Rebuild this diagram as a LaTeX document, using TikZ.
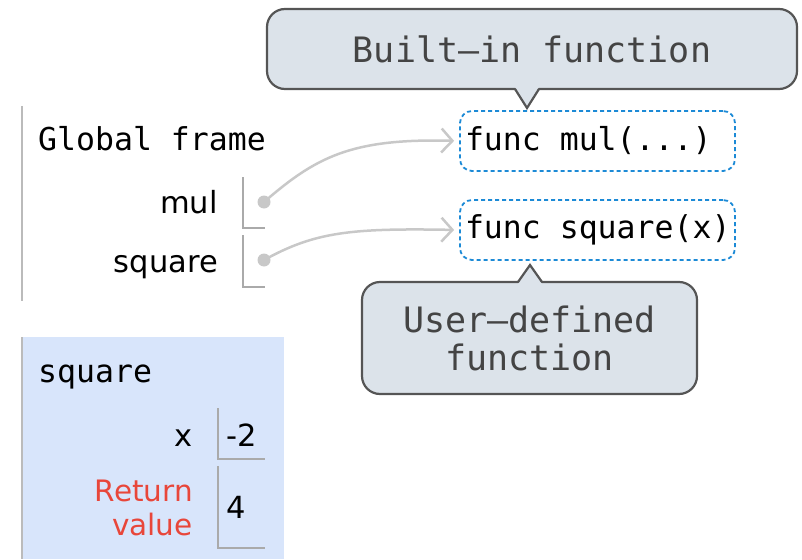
\documentclass[tikz,border=0pt]{standalone}
\usepackage{fontspec}
\setmainfont{DejaVu Sans}
\setsansfont{DejaVu Sans}
\setmonofont{DejaVu Sans Mono}
\usetikzlibrary{arrows.meta}
\definecolor{framebg}{HTML}{D8E5FB}
\definecolor{callfill}{HTML}{DCE3EA}
\definecolor{callline}{HTML}{555555}
\definecolor{calltext}{HTML}{444444}
\definecolor{funcblue}{HTML}{1C8AD6}
\definecolor{retred}{HTML}{E8463A}
\definecolor{ptrgray}{HTML}{C8C8C8}
\definecolor{boxgray}{HTML}{AAAAAA}
\tikzset{
  monotxt/.style={font=\ttfamily\fontsize{31.5}{36}\selectfont, inner sep=0pt},
  sanstxt/.style={font=\sffamily\fontsize{30.5}{36}\selectfont, inner sep=0pt},
  funcbox/.style={draw=funcblue, dashed, dash pattern=on 4pt off 3pt, line width=1.8pt, rounded corners=12pt,
    minimum width=275pt, minimum height=60pt, inner xsep=5pt, inner ysep=0pt,
    font=\ttfamily\fontsize{31.5}{36}\selectfont},
  callbox/.style={draw=callline, fill=callfill, line width=2.2pt, rounded corners=18pt,
    text=calltext, font=\ttfamily\fontsize{35}{40}\selectfont, align=center, inner sep=0pt},
  bindline/.style={draw=boxgray, line width=1.4pt},
  ptrdot/.style={circle, fill=ptrgray, inner sep=0pt, minimum size=13pt},
  ptr/.style={draw=ptrgray, line width=2.5pt, -{Straight Barb[length=11pt,width=24pt]}, shorten >=5pt},
}
\begin{document}
\begin{tikzpicture}[x=1pt,y=-1pt]
\useasboundingbox (0,0) rectangle (802,559);
% frames
\fill[framebg] (22,337) rectangle (284,559);
\draw[draw=boxgray!80, line width=1.6pt] (22,106) -- (22,301);
\draw[draw=boxgray!80, line width=1.6pt] (22,337) -- (22,559);

% global frame
\node[monotxt, anchor=base west] (gf) at (38,150) {Global frame};
\node[sanstxt, anchor=base east] (lmul) at (218,213) {mul};
\node[sanstxt, anchor=base east] (lsq) at (218,272) {square};
\draw[bindline] (243,177) -- (243,228) -- (265,228);
\draw[bindline] (243,235) -- (243,287) -- (265,287);
\node[ptrdot] (dmul) at (264,202) {};
\node[ptrdot] (dsq) at (264,260) {};

% function objects
\node[funcbox] (fmul) at (597.5,141) {\makebox[265pt][l]{func mul(...)}};
\node[funcbox] (fsq) at (597.5,230) {\makebox[265pt][l]{func square(x)}};

\draw[ptr] (dmul.center) .. controls (315,158) and (350,138) .. (fmul.west);
\draw[ptr] (dsq.center) .. controls (315,232) and (350,228) .. (fsq.west);

% callouts
\node[callbox, minimum width=530pt, minimum height=80pt] (cb) at (532,49) {Built–in function};
\fill[callfill] (515,87) -- (527,108) -- (539,87) -- cycle;
\draw[callline, line width=2.2pt, line join=miter] (515,89) -- (527,108) -- (539,89);

\node[callbox, minimum width=335pt, minimum height=112pt] (cu) at (529.5,338) {User–defined\\[-2pt]function};
\fill[callfill] (518,284) -- (530,265) -- (542,284) -- cycle;
\draw[callline, line width=2.2pt, line join=miter] (518,282) -- (530,265) -- (542,282);

% square frame
\node[monotxt, anchor=base west] (sqf) at (38,382) {square};
\node[sanstxt, anchor=base east] (lx) at (193,446) {x};
\node[sanstxt, anchor=base west] (vx) at (226,446) {-2};
\node[sanstxt, anchor=base east, text=retred, font=\sffamily\fontsize{29.5}{36}\selectfont] (lret) at (193,501) {Return};
\node[sanstxt, anchor=base east, text=retred, font=\sffamily\fontsize{29.5}{36}\selectfont] (lval) at (193,535) {value};
\node[sanstxt, anchor=base west] (vret) at (226,518) {4};
\draw[bindline] (218,408) -- (218,459) -- (265,459);
\draw[bindline] (218,466) -- (218,548) -- (265,548);
\end{tikzpicture}
\end{document}
